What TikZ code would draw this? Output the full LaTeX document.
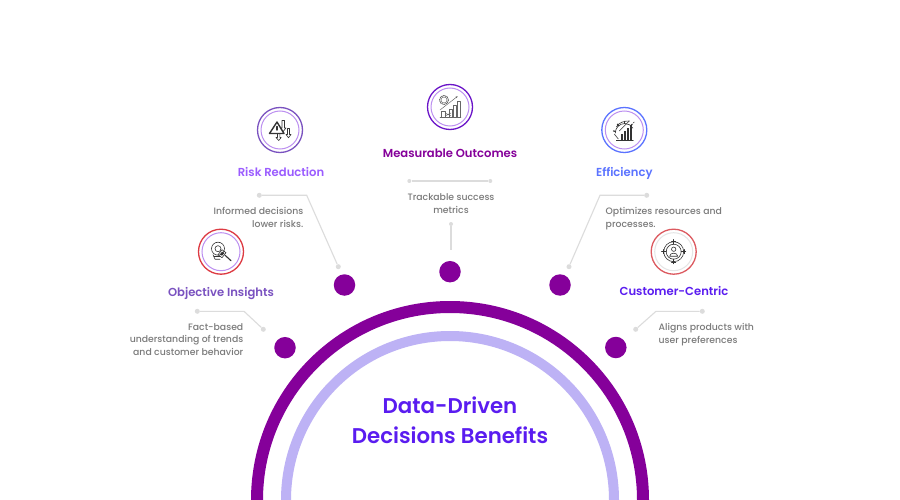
\documentclass[tikz,border=0pt]{standalone}
\usepackage{fontspec}
\usetikzlibrary{arrows.meta,calc}
\setmainfont{Poppins}
\newfontfamily\medf{Poppins}[UprightFont=* Medium]
\newfontfamily\semif{Poppins}[UprightFont=* SemiBold]
\definecolor{ringA}{HTML}{85009A}
\definecolor{ringB}{HTML}{BDB2F5}
\definecolor{titleC}{HTML}{5A1CF0}
\definecolor{objC}{HTML}{7A52C0}
\definecolor{riskC}{HTML}{9B5CFF}
\definecolor{measC}{HTML}{85009A}
\definecolor{effC}{HTML}{5B73FF}
\definecolor{lineC}{HTML}{DCDCDC}
\definecolor{descC}{HTML}{7B7B7B}
\definecolor{inkC}{HTML}{333333}
\definecolor{lilac}{HTML}{BC8FF0}
\definecolor{redA}{HTML}{DD3A42}
\definecolor{redB}{HTML}{DC5A60}
\definecolor{purA}{HTML}{6A14C8}
\tikzset{
  hub/.style={circle,fill=ringA,minimum size=21.5pt,inner sep=0pt,draw=none},
  tip/.style={circle,fill=lineC,minimum size=5pt,inner sep=0pt,draw=none},
  conn/.style={draw=lineC,line width=1.1pt},
  head/.style={anchor=base,inner sep=0pt,font=\fontsize{11.6}{14}\selectfont\semif},
  desc/.style={inner sep=0pt,text=descC,font=\fontsize{9.3}{12.9}\selectfont\medf},
  bigtitle/.style={anchor=base,inner sep=0pt,text=titleC,font=\fontsize{21.3}{26}\selectfont\semif},
  outerr/.style={circle,minimum size=45pt,inner sep=0pt,line width=1.3pt,fill=white},
  innerr/.style={circle,minimum size=38pt,inner sep=0pt,line width=1pt},
  ico/.style={draw=inkC,line width=0.6pt,line cap=round,line join=round},
  thin ico/.style={draw=inkC!75,line width=0.45pt,line cap=round,line join=round},
}
\begin{document}
\begin{tikzpicture}[x=1pt,y=-1pt]
\useasboundingbox (0,0) rectangle (900,500);
\fill[white] (0,0) rectangle (900,500);
% rings
\draw[ringA,line width=12pt] (257,500) arc[start angle=180,end angle=360,radius=193];
\draw[ringB,line width=10pt] (286,500) arc[start angle=180,end angle=360,radius=164];
\node[bigtitle] (t1) at (450,413.5) {Data-Driven};
\node[bigtitle] (t2) at (450,443.5) {Decisions Benefits};
% hubs
\node[hub] (h1) at (285,347.7) {};
\node[hub] (h2) at (344.5,285) {};
\node[hub] (h3) at (450,271.7) {};
\node[hub] (h4) at (560,285) {};
\node[hub] (h5) at (615.8,347.5) {};
% connectors
\node[tip] (a1) at (197.3,311.3) {};
\node[tip] (b1) at (263.3,329.3) {};
\coordinate (c1) at (244,311.3);
\draw[conn] (a1) -- (c1) -- (b1);
\node[tip] (a2) at (259.3,195.3) {};
\node[tip] (b2) at (338.3,266.7) {};
\coordinate (c2) at (306.7,195.3);
\draw[conn] (a2) -- (c2) -- (b2);
\node[tip,minimum size=4pt] (a3) at (409.3,181) {};
\node[tip,minimum size=4pt] (b3) at (490.3,181) {};
\draw[conn] (a3) -- (b3);
\node[tip,minimum size=4pt] (d3) at (451,224) {};
\coordinate (e3) at (451,250);
\draw[conn] (d3) -- (e3);
\node[tip] (a4) at (646.7,195.3) {};
\node[tip] (b4) at (569,266.7) {};
\coordinate (c4) at (600,195.3);
\draw[conn] (a4) -- (c4) -- (b4);
\node[tip] (a5) at (702.3,311.3) {};
\node[tip] (b5) at (635.7,329.3) {};
\coordinate (c5) at (656,311.3);
\draw[conn] (a5) -- (c5) -- (b5);
% headings
\node[head,text=objC] (n1) at (221,296) {Objective Insights};
\node[head,text=riskC] (n2) at (281,176) {Risk Reduction};
\node[head,text=measC] (n3) at (450,157.5) {Measurable Outcomes};
\node[head,text=effC] (n4) at (624.3,176) {Efficiency};
\node[head,text=titleC] (n5) at (674,295) {Customer-Centric};
% descriptions
\node[desc,anchor=north east,align=right] (d1) at (243.5,323) {Fact-based\\understanding of trends\\and customer behavior};
\node[desc,anchor=north east,align=right] (d2) at (303.5,207) {Informed decisions\\lower risks.};
\node[desc,anchor=north,align=center] (d3t) at (451,193.5) {Trackable success\\metrics};
\node[desc,anchor=north west,align=left] (d4) at (605.5,207) {Optimizes resources and\\processes.};
\node[desc,anchor=north west,align=left] (d5) at (658.5,323) {Aligns products with\\user preferences};
% icon circles
\node[outerr,draw=redA] (i1) at (221,251.7) {};
\node[innerr,draw=lilac] at (i1.center) {};
\node[outerr,draw=objC] (i2) at (280,130) {};
\node[innerr,draw=lilac] at (i2.center) {};
\node[outerr,draw=purA] (i3) at (450,107) {};
\node[innerr,draw=lilac] at (i3.center) {};
\node[outerr,draw=effC] (i4) at (624.3,130) {};
\node[innerr,draw=lilac] at (i4.center) {};
\node[outerr,draw=redB] (i5) at (673.7,251.7) {};
\node[innerr,draw=black!10] at (i5.center) {};
% icon 1: bulb and magnifier
\begin{scope}[shift={(221,251.7)}]
\draw[ico] (-3,-3) circle[radius=6.5];
\draw[ico] (-3,-3) circle[radius=3];
\draw[ico] (-8,3) -- (-6,7.5) -- (-1,7.5);
\draw[ico] (-7,5) -- (-1,5);
\draw[ico] (-3,3) -- (1,-2) -- (5,1) -- (1,6) -- cycle;
\fill[inkC] (-1,2.5) -- (1,0) -- (3.5,1.5) -- (1,4) -- cycle;
\draw[ico,line width=1.1pt] (4,3.5) -- (10,9);
\end{scope}
% icon 2: warning triangle and arrows
\begin{scope}[shift={(280,130)}]
\draw[ico,line width=1.4pt] (-3,-8) -- (-10.5,3.5) -- (4,3.5) -- cycle;
\draw[ico,line width=1.4pt] (-3,-3.5) -- (-3,0);
\draw[ico] (2,-9.5) -- (2,-2) -- (0.5,-2) -- (3.2,1.5) -- (6,-2) -- (4.5,-2) -- (4.5,-9.5) -- cycle;
\draw[ico] (7.5,-1.5) -- (7.5,4.5) -- (6,4.5) -- (8.5,7.8) -- (11,4.5) -- (9.5,4.5) -- (9.5,-1.5) -- cycle;
\draw[ico] (-2.5,3.5) -- (-2.5,7.5) -- (-4,7.5) -- (-1.3,10.5) -- (1.2,7.5) -- (-0.2,7.5) -- (-0.2,3.5);
\end{scope}
% icon 3: chart and gear
\begin{scope}[shift={(450,107)}]
\draw[thin ico] (-6,-7) circle[radius=3];
\draw[thin ico,line width=0.9pt,dash pattern=on 1pt off 1pt] (-6,-7) circle[radius=4.5];
\draw[thin ico,-{Latex[length=2.5pt]}] (-10,3) -- (8,-11);
\foreach \xa/\ya in {-1/2,3/-2,7/-6}{\draw[thin ico] (\xa,10) -- (\xa,\ya) -- (\xa+3,\ya) -- (\xa+3,10);}
\draw[thin ico] (-9,10) -- (-9,4) -- (-5,4) -- (-5,10);
\draw[thin ico] (-5,6) -- (1,9) (-5,9) -- (1,6);
\draw[thin ico] (-10,10.5) -- (11,10.5);
\end{scope}
% icon 4: gear with bars
\begin{scope}[shift={(624.3,130)}]
\draw[ico] (-9,3) arc[start angle=180,end angle=330,radius=9.5];
\foreach \an in {-90,-130,-170,-50}{\draw[ico,line width=1.2pt] ($(0.5,3)+(\an:9.5)$) -- ($(0.5,3)+(\an:11.5)$);}
\draw[ico] (-5,1) -- (5,-9);
\draw[ico] (-8,-3) .. controls (-5,-8) and (0,-9) .. (5,-9);
\foreach \xa/\ya in {-3/4,0/1,3/-2,6/-5}{\fill[inkC] (\xa,10) rectangle (\xa+1.6,\ya);}
\draw[ico] (-8,10.3) -- (9,10.3);
\draw[ico] (-10,4) -- (-6,9);
\draw[ico] (9,-7) -- (10,-8);
\end{scope}
% icon 5: target and person
\begin{scope}[shift={(673.7,251.7)}]
\draw[ico] (0,0) circle[radius=10];
\draw[ico] (0,0) circle[radius=7.5];
\draw[ico] (0,-2.5) circle[radius=2.2];
\draw[ico] (-4,4.5) .. controls (-4,0.5) and (4,0.5) .. (4,4.5) -- cycle;
\draw[ico,line width=1pt] (0,-12) -- (0,-7.5) (0,12) -- (0,7.5) (-12,0) -- (-7.5,0) (12,0) -- (7.5,0);
\draw[ico,line width=1pt] (-2,-10.5) -- (2,-10.5) (-2,10.5) -- (2,10.5) (-10.5,-2) -- (-10.5,2) (10.5,-2) -- (10.5,2);
\end{scope}
\end{tikzpicture}
\end{document}
